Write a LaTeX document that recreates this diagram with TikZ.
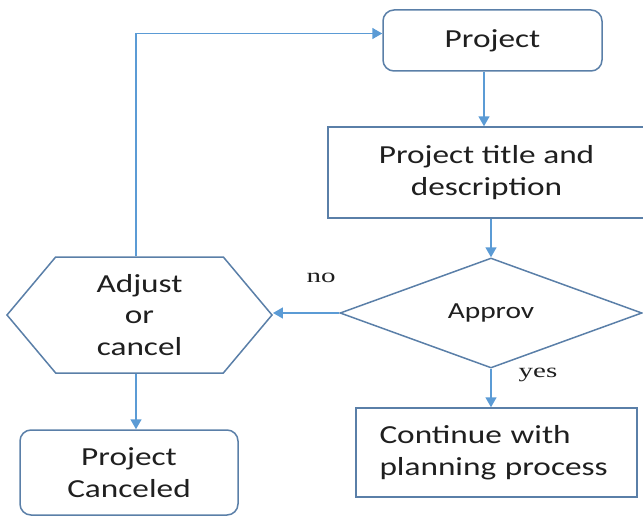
\documentclass[tikz,border=0pt]{standalone}
\usepackage{fontspec}
\setmainfont{Carlito}[FakeStretch=1.28]
\newfontfamily\notefont{Liberation Serif}[FakeStretch=1.45]
\usetikzlibrary{arrows.meta, positioning, calc, shapes.geometric, shapes.symbols}
\definecolor{flowline}{HTML}{5B9BD5}
\definecolor{boxedge}{HTML}{5A7FA8}
\definecolor{inktext}{HTML}{1F1F1F}

\begin{document}
\begin{tikzpicture}[x=1pt, y=-1pt, font=\fontsize{26}{31.5}\selectfont, text=inktext,
    box/.style={draw=boxedge, line width=1.5pt, align=center, inner sep=0pt},
    roundbox/.style={box, rounded corners=11pt},
    flow/.style={draw=flowline, line width=1.6pt, -{Triangle[length=10pt, width=11pt]}},
    note/.style={font=\notefont\fontsize{20}{22}\selectfont}]
  \useasboundingbox (0,0) rectangle (643,519);
  \clip (0,0) rectangle (643,519);
  % boxes
  \node[roundbox, minimum width=219pt, minimum height=61pt] (proj) at (492.5,40.5) {Project};
  \node[box, minimum width=317pt, minimum height=91pt] (title) at (486.5,172.5)
    {Project title and\\description};
  \node[box, diamond, aspect=2.7, minimum width=302pt, minimum height=110pt,
        font=\fontsize{23}{28}\selectfont] (appr) at (491,313) {Approv};
  \node[box, signal, signal to=east and west, signal pointer angle=100,
        minimum width=265pt, minimum height=116pt] (adj) at (139.5,315) {Adjust\\or\\cancel};
  \node[roundbox, minimum width=218pt, minimum height=85pt] (canc) at (129,472.5) {Project\\Canceled};
  \node[box, minimum width=281pt, minimum height=89pt, align=left, text width=234pt]
    (cont) at (496.5,452.5) {Continue with\\planning process};
  % labels
  \node[note] (nolab) at (321,278) {no};
  \node[note] (yeslab) at (538,375) {yes};
  % connectors
  \draw[flow] (proj.south -| 484,0) -- (title.north -| 484,0);
  \draw[flow] (appr.north |- title.south) -- (appr.north);
  \draw[flow] (appr.west) -- (appr.west -| adj.east);
  \draw[flow] (appr.south) -- (appr.south |- cont.north);
  \draw[flow] (adj.south -| 136,0) -- (canc.north -| 136,0);
  \draw[flow] (adj.north -| 136,0) |- ([yshift=7pt]proj.west);
\end{tikzpicture}
\end{document}
